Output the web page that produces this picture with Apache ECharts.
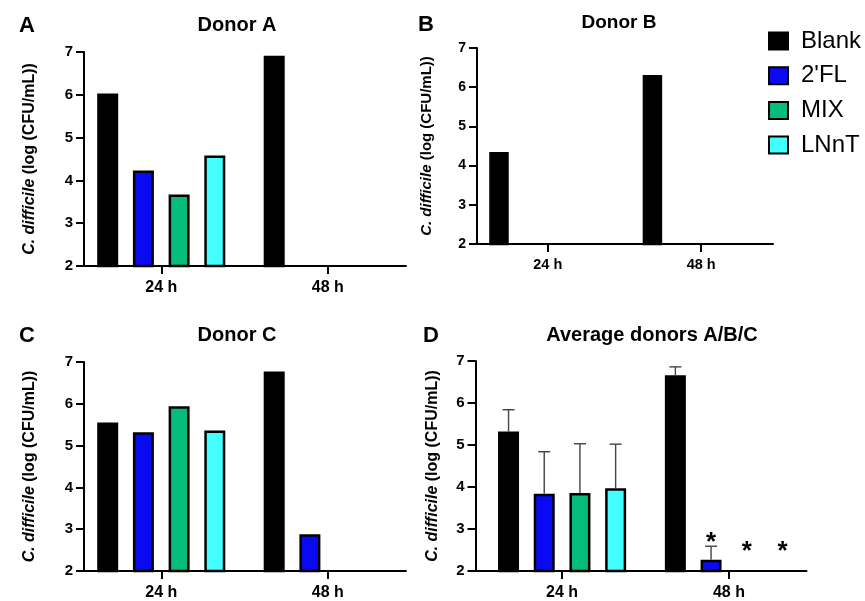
<!DOCTYPE html>
<html>
<head>
<meta charset="utf-8">
<script src="https://cdn.jsdelivr.net/npm/echarts@6/dist/echarts.min.js"></script>
<style>
  html, body { margin: 0; padding: 0; background: #fff; }
  #chart { width: 865px; height: 601px; }
</style>
</head>
<body>
<div id="chart"></div>
<script>
// Sampling times and treatment groups
const timepoints = ['24 h', '48 h'];
const groups = ['Blank', "2'FL", 'MIX', 'LNnT'];

// C. difficile counts, log(CFU/mL); rows follow `groups`, columns follow `timepoints`.
// 2 is the detection limit (nothing drawn above the axis).
const donorA = [[6.03, 6.91], [4.23, 2.00], [3.67, 2.00], [4.58, 2.00]];
const donorB = [[4.35, 6.31], [2.00, 2.00], [2.00, 2.00], [2.00, 2.00]];
const donorC = [[5.55, 6.77], [5.32, 2.88], [5.94, 2.00], [5.36, 2.00]];

// Mean and SD over the three donors
const averageMean = [[5.32, 6.66], [3.84, 2.27], [3.86, 2.00], [3.97, 2.00]];
const averageSD   = [[0.52, 0.20], [1.00, 0.32], [1.17, 0.00], [1.05, 0.00]];
// Significant difference vs Blank at 48 h
const significant48h = [0, 1, 1, 1];

const FONT = 'Liberation Sans, Arial, Helvetica, sans-serif';
const COLORS = ['#000000', '#0a0af2', '#05bd7b', '#44ffff'];

// Per-panel layout (grid box, x-range around the two categories, bar geometry)
const layouts = [
  { left: 84,    top: 52,  width: 322, height: 214, xMin: -0.464, xMax: 1.470, barW: 21,   gap: 0.70, tick: 15, cat: 16,   name: 16, nameGap: 46, catMargin: 14 },
  { left: 477,   top: 48,  width: 296, height: 196, xMin: -0.461, xMax: 1.468, barW: 19.5, gap: 0.667, tick: 14, cat: 14.5, name: 15, nameGap: 43, catMargin: 13 },
  { left: 84,    top: 362, width: 322, height: 213, xMin: -0.464, xMax: 1.470, barW: 21,   gap: 0.70, tick: 15, cat: 16,   name: 16, nameGap: 46, catMargin: 14 },
  { left: 475.5, top: 361, width: 331, height: 213.5, xMin: -0.519, xMax: 1.465, barW: 21, gap: 0.70, tick: 15, cat: 16,   name: 16, nameGap: 35, catMargin: 14 }
];
const panelValues = [donorA, donorB, donorC, averageMean];

const axisLineStyle = { color: '#000', width: 2 };

const grids = layouts.map(l => ({ left: l.left, top: l.top, width: l.width, height: l.height }));

const xAxes = layouts.map((l, i) => ({
  type: 'value', gridIndex: i, min: l.xMin, max: l.xMax,
  axisLine: { show: true, onZero: false, lineStyle: axisLineStyle },
  axisTick: { show: true, length: 8, customValues: [0, 1], lineStyle: axisLineStyle },
  axisLabel: {
    customValues: [0, 1], formatter: v => timepoints[Math.round(v)],
    color: '#000', fontWeight: 'bold', fontSize: l.cat, fontFamily: FONT, margin: l.catMargin
  },
  splitLine: { show: false }
}));

const yAxes = layouts.map((l, i) => ({
  type: 'value', gridIndex: i, min: 2, max: 7, interval: 1,
  axisLine: { show: true, onZero: false, lineStyle: axisLineStyle },
  axisTick: { show: true, length: 8, lineStyle: axisLineStyle },
  axisLabel: { color: '#000', fontWeight: 'bold', fontSize: l.tick, fontFamily: FONT, margin: 11 },
  splitLine: { show: false },
  name: '{i|C. difficile} (log (CFU/mL))',
  nameLocation: 'middle',
  nameGap: l.nameGap,
  nameTextStyle: {
    color: '#000', fontWeight: 'bold', fontSize: l.name, fontFamily: FONT,
    rich: { i: { fontStyle: 'italic', fontWeight: 'bold', fontSize: l.name, fontFamily: FONT, color: '#000' } }
  }
}));

const series = [];
panelValues.forEach((vals, p) => {
  const l = layouts[p];
  groups.forEach((g, gi) => {
    series.push({
      type: 'bar', name: g, xAxisIndex: p, yAxisIndex: p,
      barWidth: l.barW, barGap: (l.gap * 100) + '%',
      itemStyle: { color: COLORS[gi], borderColor: '#000', borderWidth: 2.5 },
      emphasis: { disabled: true },
      data: timepoints.map((t, ti) => [ti, vals[gi][ti]])
    });
  });
});

// Upper error bars and significance marks on the average panel
const avgLayout = layouts[3];
const barStep = avgLayout.barW * (1 + avgLayout.gap);
const errData = [];
groups.forEach((g, gi) => {
  timepoints.forEach((t, ti) => {
    errData.push([ti, averageMean[gi][ti], averageSD[gi][ti], gi, ti === 1 ? significant48h[gi] : 0]);
  });
});
series.push({
  type: 'custom', name: 'sd', xAxisIndex: 3, yAxisIndex: 3, z: 5,
  silent: true,
  data: errData,
  renderItem: (params, api) => {
    const ti = api.value(0), mean = api.value(1), sd = api.value(2), gi = api.value(3), sig = api.value(4);
    const base = api.coord([ti, mean]);
    const x = base[0] + (gi - 1.5) * barStep;
    const topY = api.coord([ti, mean + sd])[1];
    const children = [];
    if (sd > 0) {
      const st = { stroke: '#444', lineWidth: 1.4 };
      children.push({ type: 'line', shape: { x1: x, y1: base[1], x2: x, y2: topY }, style: st });
      children.push({ type: 'line', shape: { x1: x - 6, y1: topY, x2: x + 6, y2: topY }, style: st });
    }
    if (sig) {
      const axisY = api.coord([ti, 2])[1];
      const y = Math.min(topY - 9, axisY - 25);
      children.push({
        type: 'text',
        style: { text: '*', x: x, y: y + 6, align: 'center', verticalAlign: 'middle',
                 font: 'bold 26px ' + FONT, fill: '#000' }
      });
    }
    return { type: 'group', children };
  }
});

const titleStyle = (size) => ({ color: '#000', fontWeight: 'bold', fontSize: size, fontFamily: FONT });
const titles = [
  { text: 'A', left: 19, top: 15, padding: 0, textStyle: titleStyle(22) },
  { text: 'Donor A', left: 237, top: 15, textAlign: 'center', padding: 0, textStyle: titleStyle(20) },
  { text: 'B', left: 418, top: 14, padding: 0, textStyle: titleStyle(22) },
  { text: 'Donor B', left: 619, top: 13, textAlign: 'center', padding: 0, textStyle: titleStyle(19) },
  { text: 'C', left: 19, top: 325, padding: 0, textStyle: titleStyle(22) },
  { text: 'Donor C', left: 237, top: 325, textAlign: 'center', padding: 0, textStyle: titleStyle(20) },
  { text: 'D', left: 423, top: 325, padding: 0, textStyle: titleStyle(22) },
  { text: 'Average donors A/B/C', left: 652, top: 325, textAlign: 'center', padding: 0, textStyle: titleStyle(20) }
];

const chart = echarts.init(document.getElementById('chart'), null, { renderer: 'canvas' });
chart.setOption({
  animation: false,
  backgroundColor: '#fff',
  title: titles,
  legend: {
    data: groups, orient: 'vertical', left: 768, top: 29, padding: 0,
    itemWidth: 19, itemHeight: 17, itemGap: 10.7, icon: 'rect',
    selectedMode: false,
    itemStyle: { borderColor: '#000', borderWidth: 2 },
    textStyle: { fontSize: 24, color: '#000', fontFamily: FONT, padding: [0, 0, 0, 8] }
  },
  grid: grids,
  xAxis: xAxes,
  yAxis: yAxes,
  series: series
});
</script>
</body>
</html>
